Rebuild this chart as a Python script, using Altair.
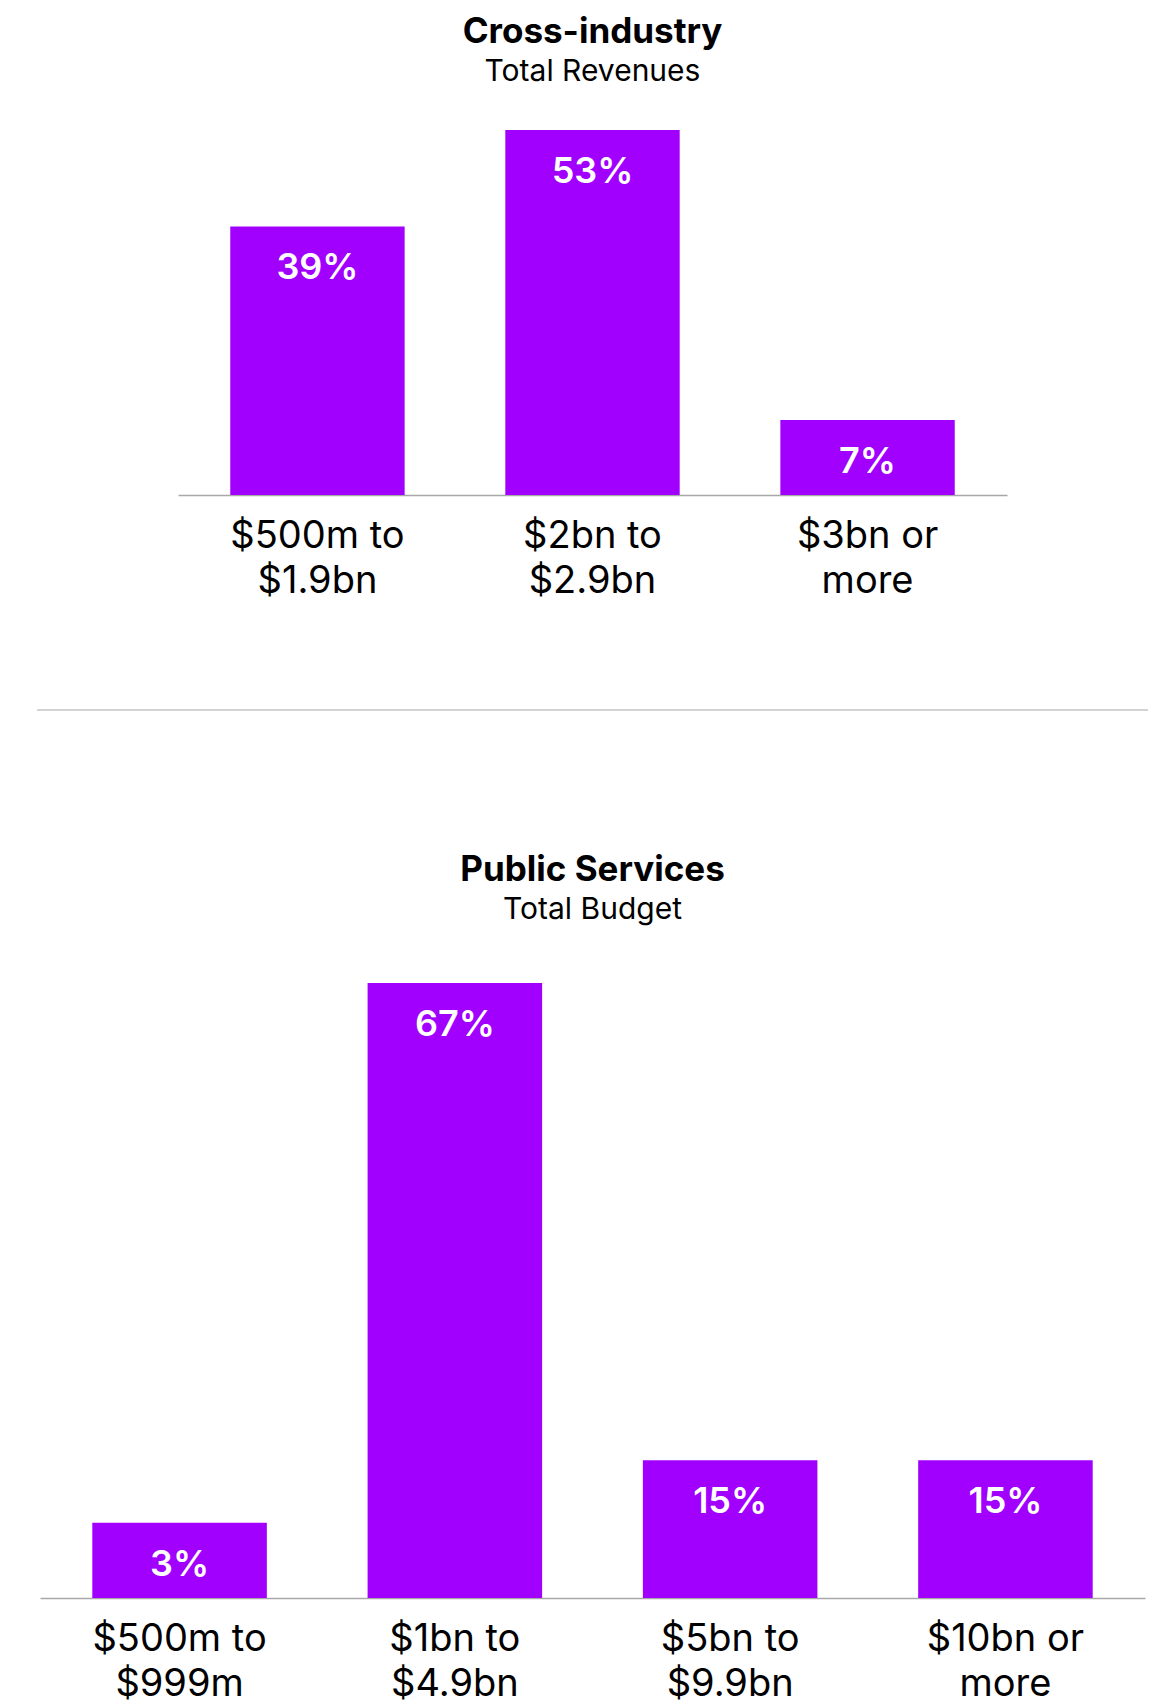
import altair as alt
import pandas as pd

# ---- data ----
top_categories = ["$500m to\n$1.9bn", "$2bn to\n$2.9bn", "$3bn or\nmore"]
top_values = [39, 53, 7]
bottom_categories = ["$500m to\n$999m", "$1bn to\n$4.9bn", "$5bn to\n$9.9bn", "$10bn or\nmore"]
bottom_values = [3, 67, 15, 15]

PURPLE = "#A100FF"
FONT = "Inter"
GRAY = "#a8a8a8"


def panel(cats, vals, width, height, min_pct, title, subtitle, title_offset):
    df = pd.DataFrame({"cat": cats, "pct": vals, "label": [f"{v}%" for v in vals]})
    base = alt.Chart(df).transform_calculate(shown=f"max(datum.pct, {min_pct})")
    x = alt.X(
        "cat:N", sort=cats, title=None,
        scale=alt.Scale(paddingInner=0.366, paddingOuter=0.19),
        axis=alt.Axis(
            labelExpr="split(datum.label, '\\n')", labelAngle=0, ticks=False, tickSize=0,
            domainColor=GRAY, domainWidth=1.5, labelFontSize=38, labelLineHeight=45,
            labelColor="#000", labelPadding=22, labelFont=FONT, grid=False,
            labelBaseline="top", labelLimit=400,
        ),
    )
    y = alt.Y("shown:Q", axis=None, scale=alt.Scale(nice=False, domain=[0, max(vals)]))
    bars = base.mark_bar(color=PURPLE).encode(x=x, y=y)
    texts = base.mark_text(
        dy=42, baseline="middle", align="center", color="white",
        font=FONT, fontSize=36, fontWeight=600,
    ).encode(x=alt.X("cat:N", sort=cats), y="shown:Q", text="label:N")
    return alt.layer(bars, texts).properties(
        width=width, height=height,
        title=alt.TitleParams(
            text=title, subtitle=subtitle, anchor="middle", frame="group",
            font=FONT, fontSize=35, fontWeight="bold", color="#000",
            subtitleFont=FONT, subtitleFontSize=30, subtitleColor="#000",
            subtitlePadding=7, offset=title_offset,
        ),
    )


top = panel(top_categories, top_values, 829, 365, 10.9,
            "Cross-industry", "Total Revenues", 43)
bottom = panel(bottom_categories, bottom_values, 1105, 615, 8.2,
               "Public Services", "Total Budget", 58)

separator = alt.Chart(pd.DataFrame({"k": [0]})).mark_rule(color=GRAY, strokeWidth=1.2).encode(
    x=alt.value(0), x2=alt.value(1111), y=alt.value(0)
).properties(width=1111, height=58)

chart = alt.vconcat(top, separator, bottom, spacing=215, center=True, bounds="flush").properties(
    padding={"left": 28, "top": 7, "right": 0, "bottom": 0},
    background="white",
).configure_view(stroke=None)

chart.save("out.html", embed_options={"renderer": "svg", "actions": False})
